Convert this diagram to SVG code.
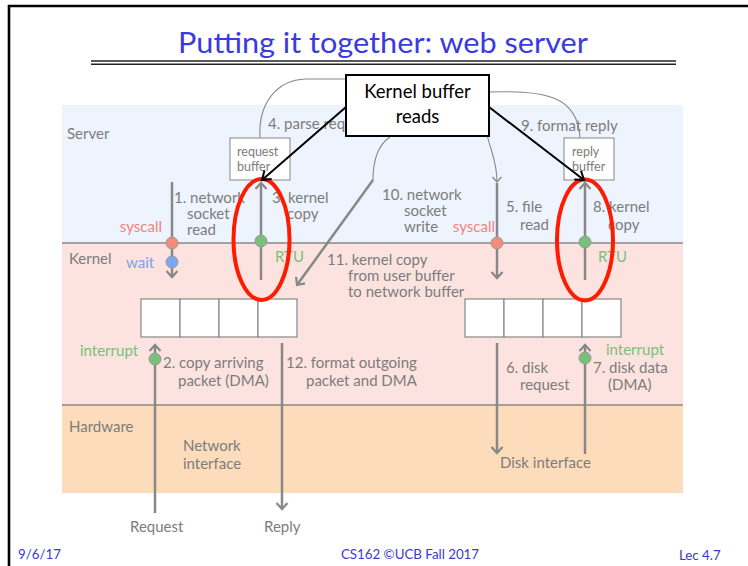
<svg xmlns="http://www.w3.org/2000/svg" width="748" height="566" viewBox="0 0 748 566">
  <defs>
    <style>
      text { font-family: Lato, "Open Sans", "Liberation Sans", sans-serif; }
      .lbl { fill: #7c7c7c; font-size: 15px; }
      .sm { fill: #7c7c7c; font-size: 12.5px; }
      .red { fill: #f2837a; font-size: 15px; }
      .grn { fill: #78c078; font-size: 15px; }
      .blu { fill: #7aa2f0; font-size: 15px; }
      .flow { stroke: #888; stroke-width: 2.5; fill: none; }
      .thin { stroke: #888; stroke-width: 1.1; fill: none; }
      .cell { fill: #fff; stroke: #888; stroke-width: 1.2; }
      .dot { stroke: #999; stroke-width: 1; }
      .foot { fill: #3a3acc; font-size: 13.3px; }
      .ring { fill: none; stroke: #ff1a00; stroke-width: 4; }
    </style>
    <marker id="gh" markerUnits="userSpaceOnUse" markerWidth="14" markerHeight="14" refX="0" refY="0" viewBox="-8 -7 10 14" orient="auto">
      <path d="M-6,-5.5 L0,0 L-6,5.5" fill="none" stroke="#888" stroke-width="2.2"/>
    </marker>
    <marker id="gs" markerUnits="userSpaceOnUse" markerWidth="12" markerHeight="12" refX="0" refY="0" viewBox="-7 -6 9 12" orient="auto">
      <path d="M-5,-4.5 L0,0 L-5,4.5" fill="none" stroke="#888" stroke-width="1.4"/>
    </marker>
    <marker id="bh" markerUnits="userSpaceOnUse" markerWidth="16" markerHeight="16" refX="0" refY="0" viewBox="-10 -8 12 16" orient="auto">
      <path d="M-8,-5.5 L0,0 L-8,5.5" fill="none" stroke="#000" stroke-width="2"/>
    </marker>
  </defs>

  <rect width="748" height="566" fill="#fff"/>

  <!-- slide frame -->
  <g id="frame" stroke="#000" stroke-width="2.6">
    <line x1="8" y1="6" x2="748" y2="6"/>
    <line x1="9" y1="5" x2="9" y2="566"/>
  </g>

  <!-- title -->
  <g id="title">
    <text x="383" y="53" text-anchor="middle" font-size="29" fill="#3a3ae0" textLength="410" lengthAdjust="spacingAndGlyphs">Putting it together: web server</text>
    <line x1="91" y1="61" x2="676" y2="61" stroke="#222" stroke-width="1.4"/>
    <line x1="91" y1="64.2" x2="676" y2="64.2" stroke="#222" stroke-width="1.4"/>
  </g>

  <!-- layers -->
  <g id="layers">
    <rect x="62" y="105" width="621" height="138" fill="#eef4fd"/>
    <rect x="62" y="243" width="621" height="162" fill="#fde3df"/>
    <rect x="62" y="405" width="621" height="88" fill="#fddcbb"/>
    <line x1="62" y1="243" x2="683" y2="243" stroke="#888" stroke-width="1.6"/>
    <line x1="62" y1="405" x2="683" y2="405" stroke="#888" stroke-width="1.6"/>
    <text class="lbl" x="67" y="139">Server</text>
    <text class="lbl" x="69" y="264">Kernel</text>
    <text class="lbl" x="69" y="432">Hardware</text>
  </g>

  <!-- connectors -->
  <g id="connectors">
    <!-- 4. parse request / 9. format reply loops -->
    <path class="thin" d="M260,138 C258,104 276,80 306,79 L347,79"/>
    <path class="thin" d="M489,92 C545,90 578,96 580,138"/>
    <!-- 10. network socket write -> 11. kernel copy -->
    <path class="thin" d="M390,137 C378,145 373,160 373,180"/>
    <line class="flow" x1="373" y1="180" x2="297" y2="285" stroke-width="2" marker-end="url(#gh)"/>
    <!-- 5. file read -->
    <path class="thin" d="M487,134 C490,150 497,160 497,182" marker-end="url(#gs)"/>
    <line class="flow" x1="497" y1="183" x2="497" y2="278" marker-end="url(#gh)"/>
    <!-- 1. network socket read -->
    <line class="flow" x1="172" y1="182" x2="172" y2="277" marker-end="url(#gh)"/>
    <!-- 3. kernel copy -->
    <line class="flow" x1="261" y1="280" x2="261" y2="183" marker-end="url(#gh)"/>
    <!-- 8. kernel copy -->
    <line class="flow" x1="585" y1="280" x2="585" y2="183" marker-end="url(#gh)"/>
    <!-- 2. copy arriving packet -->
    <line class="flow" x1="155" y1="513" x2="155" y2="345" marker-end="url(#gh)"/>
    <!-- 12. format outgoing packet -->
    <line class="flow" x1="282" y1="343" x2="282" y2="509" marker-end="url(#gh)"/>
    <!-- 6. disk request -->
    <line class="flow" x1="497" y1="343" x2="497" y2="453" marker-end="url(#gh)"/>
    <!-- 7. disk data -->
    <line class="flow" x1="585" y1="454" x2="585" y2="345" marker-end="url(#gh)"/>

    <!-- event dots -->
    <circle class="dot" cx="172" cy="243" r="6" fill="#f58b7c"/>
    <circle class="dot" cx="172" cy="262" r="6" fill="#7aa8f2"/>
    <circle class="dot" cx="261" cy="241" r="6" fill="#79c07a"/>
    <circle class="dot" cx="497" cy="243" r="6" fill="#f58b7c"/>
    <circle class="dot" cx="585" cy="242" r="6" fill="#79c07a"/>
    <circle class="dot" cx="155" cy="359" r="6" fill="#79c07a"/>
    <circle class="dot" cx="585" cy="358" r="6" fill="#79c07a"/>
  </g>

  <!-- step labels -->
  <g id="labels">
    <text class="lbl" x="268" y="129">4. parse request</text>
    <text class="lbl" x="521" y="131">9. format reply</text>

    <text class="lbl" x="174" y="203">1. network</text>
    <text class="lbl" x="187" y="219">socket</text>
    <text class="lbl" x="187" y="235">read</text>
    <text class="red" x="162" y="232" text-anchor="end">syscall</text>
    <text class="blu" x="126" y="268">wait</text>

    <text class="lbl" x="272" y="203">3. kernel</text>
    <text class="lbl" x="287" y="219">copy</text>
    <text class="grn" x="275" y="262">RTU</text>

    <text class="lbl" x="382" y="200">10. network</text>
    <text class="lbl" x="404" y="216">socket</text>
    <text class="lbl" x="404" y="232">write</text>

    <text class="lbl" x="327" y="265">11. kernel copy</text>
    <text class="lbl" x="348" y="281">from user buffer</text>
    <text class="lbl" x="348" y="297">to network buffer</text>

    <text class="red" x="495" y="232" text-anchor="end">syscall</text>
    <text class="lbl" x="506" y="212">5. file</text>
    <text class="lbl" x="520" y="230">read</text>

    <text class="lbl" x="593" y="212">8. kernel</text>
    <text class="lbl" x="608" y="230">copy</text>
    <text class="grn" x="598" y="262">RTU</text>

    <text class="grn" x="80" y="356">interrupt</text>
    <text class="lbl" x="163" y="368">2. copy arriving</text>
    <text class="lbl" x="178" y="386">packet (DMA)</text>

    <text class="lbl" x="286" y="368">12. format outgoing</text>
    <text class="lbl" x="306" y="386">packet and DMA</text>

    <text class="lbl" x="506" y="373">6. disk</text>
    <text class="lbl" x="520" y="390">request</text>

    <text class="grn" x="606" y="355">interrupt</text>
    <text class="lbl" x="593" y="373">7. disk data</text>
    <text class="lbl" x="608" y="390">(DMA)</text>

    <text class="lbl" x="183" y="451">Network</text>
    <text class="lbl" x="183" y="469">interface</text>
    <text class="lbl" x="500" y="468">Disk interface</text>

    <text class="lbl" x="130" y="532">Request</text>
    <text class="lbl" x="264" y="532">Reply</text>
  </g>

  <!-- user-space buffers -->
  <g id="request-buffer">
    <rect x="230" y="138" width="60" height="42" fill="#fff" stroke="#999" stroke-width="1.2"/>
    <text class="sm" x="237" y="156">request</text>
    <text class="sm" x="237" y="171">buffer</text>
  </g>
  <g id="reply-buffer">
    <rect x="564" y="138" width="50" height="42" fill="#fff" stroke="#999" stroke-width="1.2"/>
    <text class="sm" x="572" y="156">reply</text>
    <text class="sm" x="572" y="171">buffer</text>
  </g>

  <!-- kernel buffers -->
  <g id="network-kernel-buffer">
    <rect class="cell" x="141" y="299" width="39" height="38"/>
    <rect class="cell" x="180" y="299" width="39" height="38"/>
    <rect class="cell" x="219" y="299" width="39" height="38"/>
    <rect class="cell" x="258" y="299" width="39" height="38"/>
  </g>
  <g id="disk-kernel-buffer">
    <rect class="cell" x="465" y="299" width="39" height="38"/>
    <rect class="cell" x="504" y="299" width="39" height="38"/>
    <rect class="cell" x="543" y="299" width="39" height="38"/>
    <rect class="cell" x="582" y="299" width="39" height="38"/>
  </g>

  <!-- highlight rings round the kernel copies -->
  <g id="highlights">
    <ellipse class="ring" cx="261.5" cy="239.5" rx="28" ry="60.5"/>
    <ellipse class="ring" cx="585" cy="240" rx="28" ry="60.5"/>
  </g>

  <!-- callout -->
  <g id="callout">
    <rect x="346" y="75" width="143" height="61" fill="#fff" stroke="#000" stroke-width="2"/>
    <text x="417.5" y="98" text-anchor="middle" font-size="18.5" fill="#000">Kernel buffer</text>
    <text x="417.5" y="123" text-anchor="middle" font-size="18.5" fill="#000">reads</text>
    <line x1="346" y1="107" x2="262" y2="180" stroke="#000" stroke-width="2" marker-end="url(#bh)"/>
    <line x1="489" y1="107" x2="584" y2="180" stroke="#000" stroke-width="2" marker-end="url(#bh)"/>
  </g>

  <!-- footer -->
  <g id="footer">
    <text class="foot" x="18" y="559">9/6/17</text>
    <text class="foot" x="410" y="559" text-anchor="middle">CS162 ©UCB Fall 2017</text>
    <text class="foot" x="679" y="560">Lec 4.7</text>
  </g>
</svg>
